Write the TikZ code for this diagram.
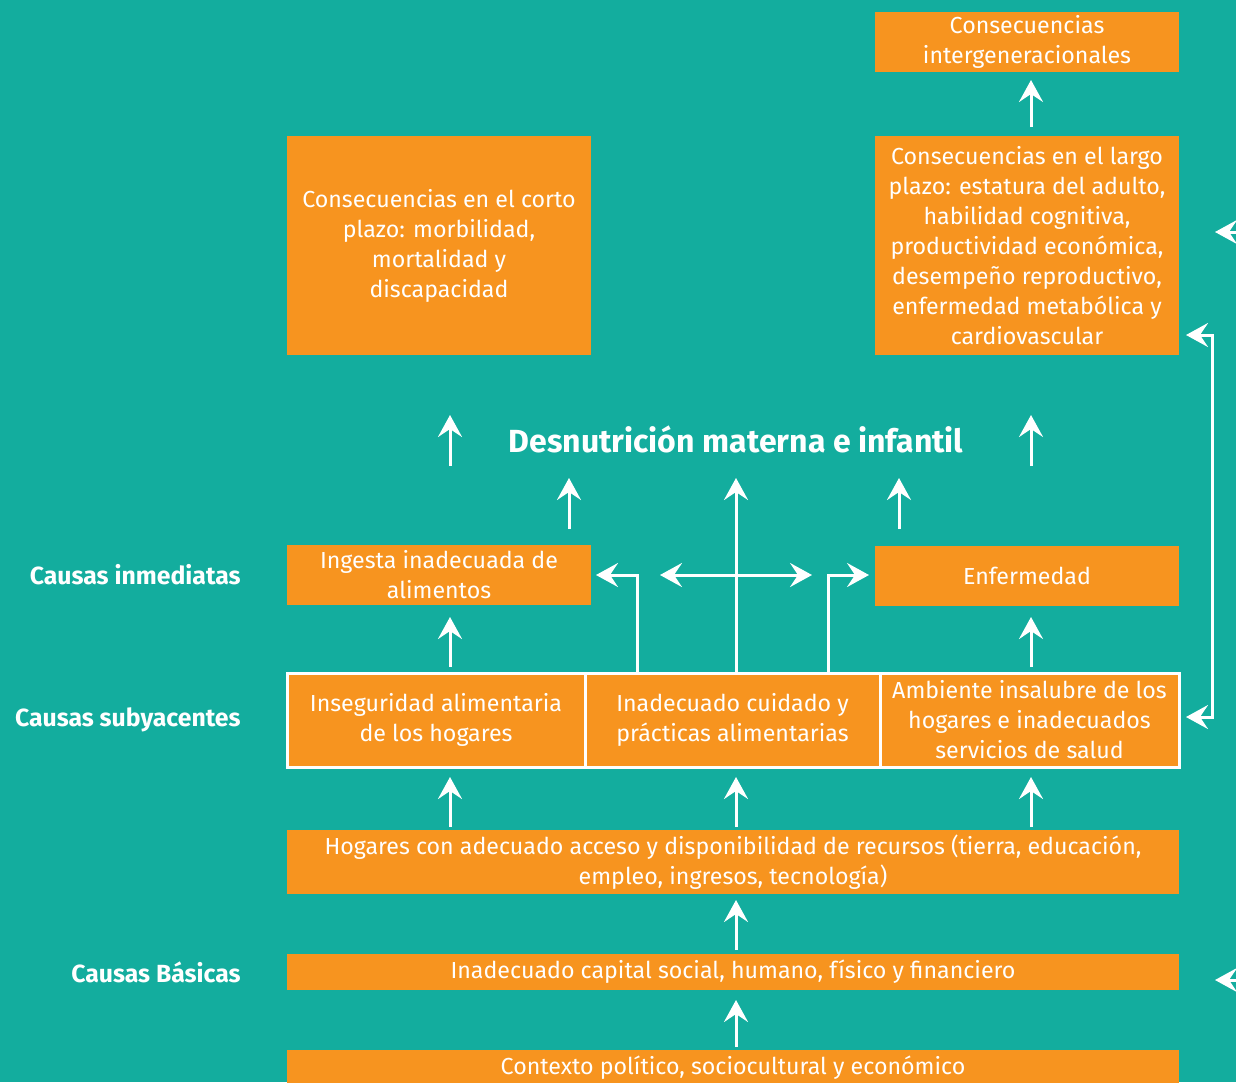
\documentclass[tikz,border=0pt]{standalone}
\usepackage{fontspec}
\setmainfont{Fira Sans}
\usetikzlibrary{arrows.meta}
\definecolor{teal}{HTML}{13AD9E}
\definecolor{orng}{HTML}{F7941F}
\begin{document}
\begin{tikzpicture}[x=0.5pt,y=-0.5pt,
  box/.style={fill=orng,text=white,align=center,inner sep=0pt,font=\fontsize{11.6}{15}\selectfont},
  cell/.style={box,draw=white,line width=1.5pt},
  lab/.style={text=white,anchor=east,inner sep=0pt,font=\fontsize{12.4}{14}\selectfont\bfseries},
  arr/.style={draw=white,line width=1.5pt,-{Stealth[length=11pt,width=12pt,inset=4pt]}},
  darr/.style={draw=white,line width=1.5pt,{Stealth[length=11pt,width=12pt,inset=4pt]}-{Stealth[length=11pt,width=12pt,inset=4pt]}}]
\fill[teal] (0,0) rectangle (1236,1082);
\useasboundingbox (0,0) rectangle (1236,1082);
% boxes
\node[box,minimum width=152pt,minimum height=30pt] (ig) at (1027,42) {Consecuencias\\intergeneracionales};
\node[box,minimum width=152pt,minimum height=109.5pt] (cp) at (439,245.5) {Consecuencias en el corto\\plazo: morbilidad,\\mortalidad y\\discapacidad};
\node[box,minimum width=152pt,minimum height=109.5pt] (lp) at (1027,245.5) {Consecuencias en el largo\\plazo: estatura del adulto,\\habilidad cognitiva,\\productividad económica,\\desempeño reproductivo,\\enfermedad metabólica y\\cardiovascular};
\node[text=white,inner sep=0pt,font=\fontsize{16}{18}\selectfont\bfseries] (dm) at (736,439) {Desnutrición materna e infantil};
\node[box,minimum width=152pt,minimum height=30pt] (ing) at (439,575) {Ingesta inadecuada de\\alimentos};
\node[box,minimum width=152pt,minimum height=30pt] (enf) at (1027,576) {Enfermedad};
\node[cell,minimum width=149pt,minimum height=47pt] (s1) at (436,720) {Inseguridad alimentaria\\de los hogares};
\node[cell,minimum width=147.5pt,minimum height=47pt] (s2) at (732.5,720) {Inadecuado cuidado y\\prácticas alimentarias};
\node[cell,minimum width=149.5pt,minimum height=47pt] (s3) at (1029.5,720) {Ambiente insalubre de los\\hogares e inadecuados\\servicios de salud};
\node[box,minimum width=446pt,minimum height=32pt] (hog) at (733,862) {Hogares con adecuado acceso y disponibilidad de recursos (tierra, educación,\\empleo, ingresos, tecnología)};
\node[box,minimum width=446pt,minimum height=18pt] (cap) at (733,972) {Inadecuado capital social, humano, físico y financiero};
\node[box,minimum width=446pt,minimum height=17pt,anchor=north] (ctx) at (733,1050) {Contexto político, sociocultural y económico};
% labels
\node[lab] (l1) at (241,575) {Causas inmediatas};
\node[lab] (l2) at (241,720) {Causas subyacentes};
\node[lab] (l3) at (241,972) {Causas Básicas};
% coordinates
\coordinate (a1) at (1031,127); \coordinate (a1e) at (1031,80);
\coordinate (b1) at (450,466); \coordinate (b1e) at (450,415);
\coordinate (b2) at (1031,466); \coordinate (b2e) at (1031,415);
\coordinate (c1) at (569,529); \coordinate (c1e) at (569,478);
\coordinate (c2) at (736,672); \coordinate (c2e) at (736,478);
\coordinate (c3) at (899,529); \coordinate (c3e) at (899,478);
\coordinate (h1) at (660,575); \coordinate (h2) at (812,575);
\coordinate (k1) at (637,672); \coordinate (k1b) at (637,575); \coordinate (k1e) at (596,575);
\coordinate (k2) at (828,672); \coordinate (k2b) at (828,575); \coordinate (k2e) at (869,575);
\coordinate (d1) at (450,667); \coordinate (d1e) at (450,617);
\coordinate (d2) at (1031,667); \coordinate (d2e) at (1031,617);
\coordinate (e1) at (450,827); \coordinate (e1e) at (450,777);
\coordinate (e2) at (736,827); \coordinate (e2e) at (736,777);
\coordinate (e3) at (1031,827); \coordinate (e3e) at (1031,777);
\coordinate (f1) at (736,950); \coordinate (f1e) at (736,900);
\coordinate (g1) at (736,1047); \coordinate (g1e) at (736,1000);
\coordinate (r1) at (1186,335); \coordinate (r1b) at (1212,335);
\coordinate (r2) at (1186,717); \coordinate (r2b) at (1212,717);
\coordinate (x1) at (1250,232); \coordinate (x1e) at (1215,232);
\coordinate (x2) at (1250,980); \coordinate (x2e) at (1215,980);
% arrows
\draw[arr] (a1) -- (a1e);
\draw[arr] (b1) -- (b1e);
\draw[arr] (b2) -- (b2e);
\draw[arr] (c1) -- (c1e);
\draw[arr] (c2) -- (c2e);
\draw[arr] (c3) -- (c3e);
\draw[darr] (h1) -- (h2);
\draw[arr] (k1) -- (k1b) -- (k1e);
\draw[arr] (k2) -- (k2b) -- (k2e);
\draw[arr] (d1) -- (d1e);
\draw[arr] (d2) -- (d2e);
\draw[arr] (e1) -- (e1e);
\draw[arr] (e2) -- (e2e);
\draw[arr] (e3) -- (e3e);
\draw[arr] (f1) -- (f1e);
\draw[arr] (g1) -- (g1e);
\draw[darr] (r1) -- (r1b) -- (r2b) -- (r2);
\draw[arr] (x1) -- (x1e);
\draw[arr] (x2) -- (x2e);
\end{tikzpicture}
\end{document}
